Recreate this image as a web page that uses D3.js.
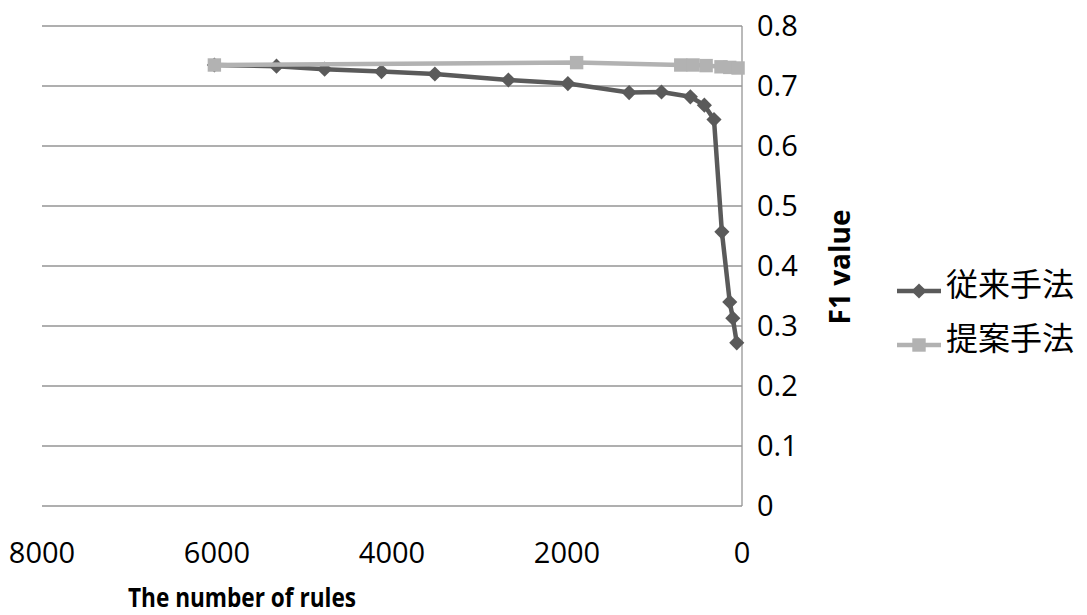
<!DOCTYPE html>
<html>
<head>
  <meta charset="UTF-8">
  <style>
    body { margin: 0; background: #fff; }
    svg text { font-family: "Open Sans", "Noto Sans CJK JP", sans-serif; fill: #000; }
  </style>
</head>
<body>
<svg></svg>
<script src="https://d3js.org/d3.v7.min.js"></script>
<script>

let width = 1087, height = 615;

// data
let conventionalRules = [6030, 5320, 4770, 4120, 3510, 2670, 1990, 1290, 920, 590, 430, 320, 230, 140, 105, 60];
let conventionalF1 = [0.735, 0.733, 0.728, 0.724, 0.720, 0.710, 0.704, 0.689, 0.690, 0.682, 0.668, 0.644, 0.457, 0.340, 0.313, 0.272];
let proposedRules = [6030, 1890, 700, 560, 410, 240, 140, 45];
let proposedF1 = [0.735, 0.739, 0.735, 0.735, 0.734, 0.732, 0.731, 0.730];
let seriesNames = ["従来手法", "提案手法"];
let xTicks = [8000, 6000, 4000, 2000, 0];
let yTicks = [0, 0.1, 0.2, 0.3, 0.4, 0.5, 0.6, 0.7, 0.8];

let svg = d3.select("svg")
    .attr("width", width)
    .attr("height", height);

let x = d3.scaleLinear().domain([8000, 0]).range([42, 742]);
let y = d3.scaleLinear().domain([0, 0.8]).range([506, 26]);

// gridlines
svg.append("g")
    .selectAll("line")
    .data(yTicks)
    .enter()
    .append("line")
    .attr("x1", x(8000))
    .attr("x2", x(0))
    .attr("y1", d => y(d))
    .attr("y2", d => y(d))
    .attr("stroke", "#959595")
    .attr("stroke-width", 1.3);

// vertical axis line at x = 0
svg.append("line")
    .attr("x1", x(0)).attr("x2", x(0))
    .attr("y1", y(0.8)).attr("y2", y(0))
    .attr("stroke", "#959595")
    .attr("stroke-width", 1.3);

// y tick labels (right side)
svg.append("g")
    .selectAll("text")
    .data(yTicks)
    .enter()
    .append("text")
    .attr("x", 757)
    .attr("y", d => y(d))
    .attr("dy", "0.35em")
    .style("font-size", "29px")
    .text(d => d3.format("")(Math.round(d * 10) / 10));

// x tick labels
svg.append("g")
    .selectAll("text")
    .data(xTicks)
    .enter()
    .append("text")
    .attr("x", d => x(d))
    .attr("y", 553)
    .attr("dy", "0.35em")
    .attr("text-anchor", "middle")
    .style("font-size", "29px")
    .text(d => d);

// axis titles
svg.append("text")
    .attr("x", 242)
    .attr("y", 598)
    .attr("dy", "0.35em")
    .attr("text-anchor", "middle")
    .attr("textLength", 228)
    .attr("lengthAdjust", "spacingAndGlyphs")
    .style("font-size", "27px")
    .style("font-weight", "bold")
    .text("The number of rules");

svg.append("text")
    .attr("transform", "translate(840, 267) rotate(-90)")
    .attr("dy", "0.35em")
    .attr("text-anchor", "middle")
    .style("font-size", "28px")
    .style("font-weight", "bold")
    .text("F1 value");

let line = d3.line()
    .x(d => x(d[0]))
    .y(d => y(d[1]));

let conventional = d3.zip(conventionalRules, conventionalF1);
let proposed = d3.zip(proposedRules, proposedF1);

let diamond = d3.symbol().type(d3.symbolSquare).size(115);
let square = d3.symbol().type(d3.symbolSquare).size(180);

// 従来手法
svg.append("path")
    .datum(conventional)
    .attr("d", line)
    .attr("fill", "none")
    .attr("stroke", "#5a5a5a")
    .attr("stroke-width", 4.5)
    .attr("stroke-linejoin", "round");

svg.append("g")
    .selectAll("path")
    .data(conventional)
    .enter()
    .append("path")
    .attr("d", diamond)
    .attr("transform", d => "translate(" + x(d[0]) + "," + y(d[1]) + ") rotate(45)")
    .attr("fill", "#5a5a5a");

// 提案手法
svg.append("path")
    .datum(proposed)
    .attr("d", line)
    .attr("fill", "none")
    .attr("stroke", "#b2b2b2")
    .attr("stroke-width", 4.5)
    .attr("stroke-linejoin", "round");

svg.append("g")
    .selectAll("path")
    .data(proposed)
    .enter()
    .append("path")
    .attr("d", square)
    .attr("transform", d => "translate(" + x(d[0]) + "," + y(d[1]) + ")")
    .attr("fill", "#b2b2b2");

// legend
let legendColors = ["#5a5a5a", "#b2b2b2"];
let legendY = [291, 345];
let legend = svg.append("g");
seriesNames.forEach((name, i) => {
    legend.append("line")
        .attr("x1", 897).attr("x2", 941)
        .attr("y1", legendY[i]).attr("y2", legendY[i])
        .attr("stroke", legendColors[i])
        .attr("stroke-width", 4.5);
    legend.append("path")
        .attr("d", i == 0 ? diamond : square)
        .attr("transform", "translate(919," + legendY[i] + ")" + (i == 0 ? " rotate(45)" : ""))
        .attr("fill", legendColors[i]);
    legend.append("text")
        .attr("x", 946)
        .attr("y", legendY[i] - 6)
        .attr("dy", "0.35em")
        .style("font-family", "'Noto Sans CJK JP', sans-serif")
        .style("font-size", "32px")
        .text(name);
});

</script>
</body>
</html>
